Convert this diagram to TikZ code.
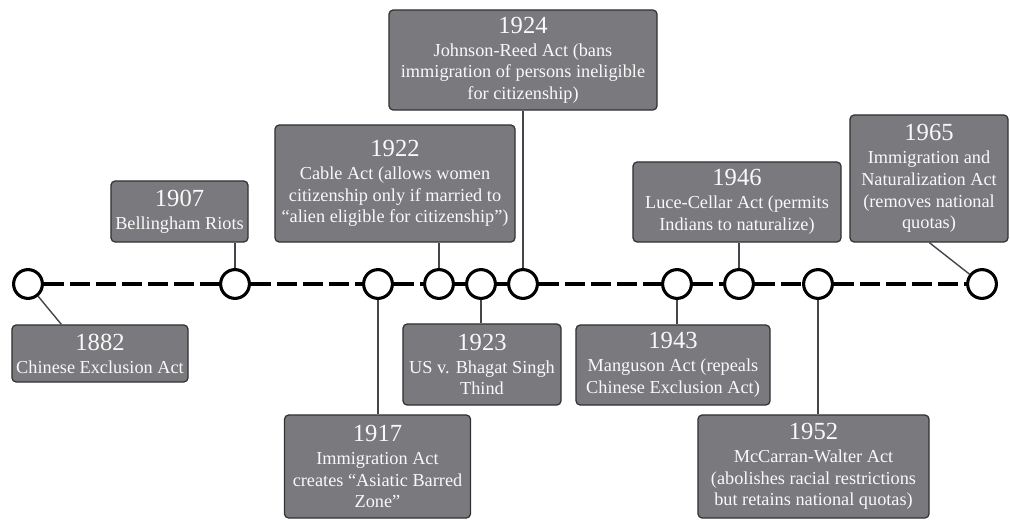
\documentclass[tikz,border=0pt]{standalone}
\usepackage{fontspec}
\setmainfont{Liberation Serif}
\usetikzlibrary{calc}
\definecolor{boxgray}{RGB}{122,122,126}
\definecolor{boxline}{RGB}{50,50,52}
\definecolor{linkgray}{RGB}{70,70,72}
\newcommand\yeartext[1]{{\fontsize{17.5}{20}\selectfont #1}\\[1pt]}
\begin{document}
\begin{tikzpicture}[x=0.025cm,y=-0.025cm,line join=round]
    \tikzstyle{event}=[rectangle, draw=boxline, line width=0.9pt, fill=boxgray, rounded corners=3pt, text=white!95!gray, align=center, inner sep=1pt, font=\fontsize{13}{15.4}\selectfont]
    \tikzstyle{yearmark}=[circle, draw=black, fill=white, line width=2.2pt, minimum size=0.72cm, inner sep=0pt]
    \tikzstyle{track}=[line width=2.3pt, dash pattern=on 14pt off 4.5pt]
    \tikzstyle{link}=[draw=linkgray, line width=1pt]
    \useasboundingbox (0,0) rectangle (1010,520);
    % circles on the time line
    \foreach \yr/\x in {1882/28, 1907/235, 1917/378, 1922/439, 1923/481, 1924/523, 1943/677, 1946/739, 1952/818, 1965/982}
      \node[yearmark] (c\yr) at (\x,284) {};
    \foreach \a/\b in {1882/1907, 1907/1917, 1917/1922, 1922/1923, 1923/1924, 1924/1943, 1943/1946, 1946/1952, 1952/1965}
      \draw[track] (c\a) -- (c\b);
    % event boxes
    \node[event, minimum width=4.4cm, minimum height=1.425cm] (b1882) at (100,353.5) {\yeartext{1882}Chinese Exclusion Act};
    \node[event, minimum width=3.425cm, minimum height=1.525cm] (b1907) at (179.5,211.5) {\yeartext{1907}Bellingham Riots};
    \node[event, minimum width=4.65cm, minimum height=2.575cm] (b1917) at (377.5,466.5) {\yeartext{1917}Immigration Act\\creates “Asiatic Barred\\Zone”};
    \node[event, minimum width=6cm, minimum height=2.925cm] (b1922) at (395,183.5) {\yeartext{1922}Cable Act (allows women\\citizenship only if married to\\“alien eligible for citizenship”)};
    \node[event, minimum width=3.95cm, minimum height=2.025cm] (b1923) at (482,364.5) {\yeartext{1923}US v. Bhagat Singh\\Thind};
    \node[event, minimum width=6.7cm, minimum height=2.5cm] (b1924) at (523,60) {\yeartext{1924}Johnson-Reed Act (bans\\immigration of persons ineligible\\for citizenship)};
    \node[event, minimum width=4.85cm, minimum height=2cm] (b1943) at (673,365) {\yeartext{1943}Manguson Act (repeals\\Chinese Exclusion Act)};
    \node[event, minimum width=5.2cm, minimum height=2cm] (b1946) at (737,202) {\yeartext{1946}Luce-Cellar Act (permits\\Indians to naturalize)};
    \node[event, minimum width=5.775cm, minimum height=2.575cm] (b1952) at (813.5,466.5) {\yeartext{1952}McCarran-Walter Act\\(abolishes racial restrictions\\but retains national quotas)};
    \node[event, minimum width=3.95cm, minimum height=3.175cm] (b1965) at (929,178.5) {\yeartext{1965}Immigration and\\Naturalization Act\\(removes national\\quotas)};
    % links
    \draw[link] (c1882) -- ($(b1882.north west)+(50,0)$);
    \draw[link] (b1907.south -| c1907) -- (c1907);
    \draw[link] (c1917) -- (c1917 |- b1917.north);
    \draw[link] (b1922.south -| c1922) -- (c1922);
    \draw[link] (c1923) -- (c1923 |- b1923.north);
    \draw[link] (b1924.south -| c1924) -- (c1924);
    \draw[link] (c1943) -- (c1943 |- b1943.north);
    \draw[link] (b1946.south -| c1946) -- (c1946);
    \draw[link] (c1952) -- (c1952 |- b1952.north);
    \draw[link] ($(b1965.south west)+(80,0)$) -- (c1965);
\end{tikzpicture}
\end{document}
